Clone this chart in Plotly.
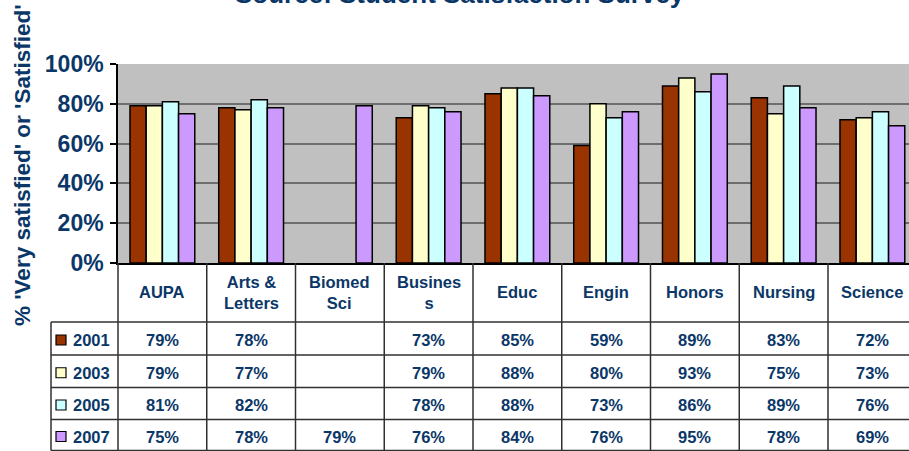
import plotly.graph_objects as go

categories = ["AUPA", "Arts &<br>Letters", "Biomed<br>Sci", "Busines<br>s", "Educ",
              "Engin", "Honors", "Nursing", "Science"]
years = ["2001", "2003", "2005", "2007"]
v2001 = [79, 78, None, 73, 85, 59, 89, 83, 72]
v2003 = [79, 77, None, 79, 88, 80, 93, 75, 73]
v2005 = [81, 82, None, 78, 88, 73, 86, 89, 76]
v2007 = [75, 78, 79, 76, 84, 76, 95, 78, 69]
series = [v2001, v2003, v2005, v2007]
colors = ["#993300", "#FFFFCC", "#CCFFFF", "#CC99FF"]

title_text = "Source: Student Satisfaction Survey"
ytitle_text = "% 'Very satisfied' or 'Satisfied'"
yticks = [0, 20, 40, 60, 80, 100]

NAVY = "#0B3768"
FONT = "Liberation Sans, Arial, sans-serif"
W, H = 909, 451
L, R, T, B = 118, 909, 64, 263
colw = 88.75


def px2x(p):
    return (p - L) / (R - L)


def py2y(p):
    return (B - p) / (B - T)


fig = go.Figure()
idx = list(range(len(categories)))
for yr, vals, c in zip(years, series, colors):
    fig.add_trace(go.Bar(
        x=idx, y=[None if v is None else v / 100 for v in vals], name=yr,
        marker=dict(color=c, line=dict(color="black", width=1.5)),
        showlegend=False, hoverinfo="skip"))

shapes = []
line_style = dict(color="#303030", width=1.5)
row_edges = [322, 355, 387.5, 419.5, 450.5]
for i, ry in enumerate(row_edges):
    shapes.append(dict(type="line", xref="paper", yref="paper",
                       x0=px2x(51), x1=1.0, y0=py2y(ry), y1=py2y(ry),
                       line=line_style))
shapes.append(dict(type="line", xref="paper", yref="paper",
                   x0=px2x(51), x1=px2x(51), y0=py2y(322), y1=py2y(450.5),
                   line=line_style))
shapes.append(dict(type="line", xref="paper", yref="paper",
                   x0=0, x1=0, y0=0, y1=py2y(450.5), line=line_style))
for k in range(1, len(categories) + 1):
    shapes.append(dict(type="line", xref="x", yref="paper",
                       x0=k - 0.5, x1=k - 0.5, y0=0, y1=py2y(450.5),
                       line=line_style))

annotations = []
annotations.append(dict(text="<b>" + title_text + "</b>", xref="paper", yref="paper",
                        x=px2x(460), y=py2y(11), xanchor="center", yanchor="bottom",
                        showarrow=False, font=dict(family=FONT, size=26, color=NAVY)))
annotations.append(dict(text="<b>" + ytitle_text + "</b>", xref="paper", yref="paper",
                        x=px2x(22), y=py2y(165), xanchor="center", yanchor="middle",
                        textangle=-90, showarrow=False,
                        font=dict(family=FONT, size=22.5, color=NAVY)))
for i, cat in enumerate(categories):
    annotations.append(dict(text="<b>" + cat + "</b>", xref="x", yref="paper",
                            x=i, y=py2y(292), xanchor="center", yanchor="middle",
                            showarrow=False,
                            font=dict(family=FONT, size=16.5, color=NAVY)))
for r, (yr, vals, c) in enumerate(zip(years, series, colors)):
    cy = (row_edges[r] + row_edges[r + 1]) / 2 + 1.5
    shapes.append(dict(type="rect", xref="paper", yref="paper",
                       x0=px2x(56), x1=px2x(66), y0=py2y(cy - 5), y1=py2y(cy + 5),
                       fillcolor=c, line=dict(color="black", width=1.2)))
    annotations.append(dict(text="<b>" + yr + "</b>", xref="paper", yref="paper",
                            x=px2x(71), y=py2y(cy), xanchor="left", yanchor="middle",
                            showarrow=False,
                            font=dict(family=FONT, size=16.5, color=NAVY)))
    for i, v in enumerate(vals):
        if v is None:
            continue
        annotations.append(dict(text="<b>%d%%</b>" % v, xref="x", yref="paper",
                                x=i, y=py2y(cy), xanchor="center", yanchor="middle",
                                showarrow=False,
                                font=dict(family=FONT, size=16.5, color=NAVY)))

fig.update_layout(
    width=W, height=H,
    margin=dict(l=L, r=W - R, t=T, b=H - B, pad=0),
    paper_bgcolor="white", plot_bgcolor="#C0C0C0",
    barmode="group", bargap=0.27, bargroupgap=0,
    shapes=shapes, annotations=annotations,
    xaxis=dict(range=[-0.5, -0.5 + (R - L) / colw], showticklabels=False,
               showgrid=False, zeroline=False, showline=True,
               linecolor="black", linewidth=1.5, ticks=""),
    yaxis=dict(range=[0, 1], tickvals=[t / 100 for t in yticks],
               ticktext=["<b>%d%%</b>" % t for t in yticks],
               tickfont=dict(family=FONT, size=23, color=NAVY),
               showgrid=True, gridcolor="#6E6E6E", gridwidth=1.5,
               zeroline=False, showline=True, linecolor="black", linewidth=1.5,
               ticks="outside", ticklen=6, tickcolor="black", tickwidth=1.5,
               ticklabelstandoff=2, automargin=False),
)

fig.write_html("out.html", config={"displayModeBar": False},
               post_script="document.body.style.margin='0';"
                           "document.body.style.padding='0';"
                           "document.body.style.overflow='hidden';")
